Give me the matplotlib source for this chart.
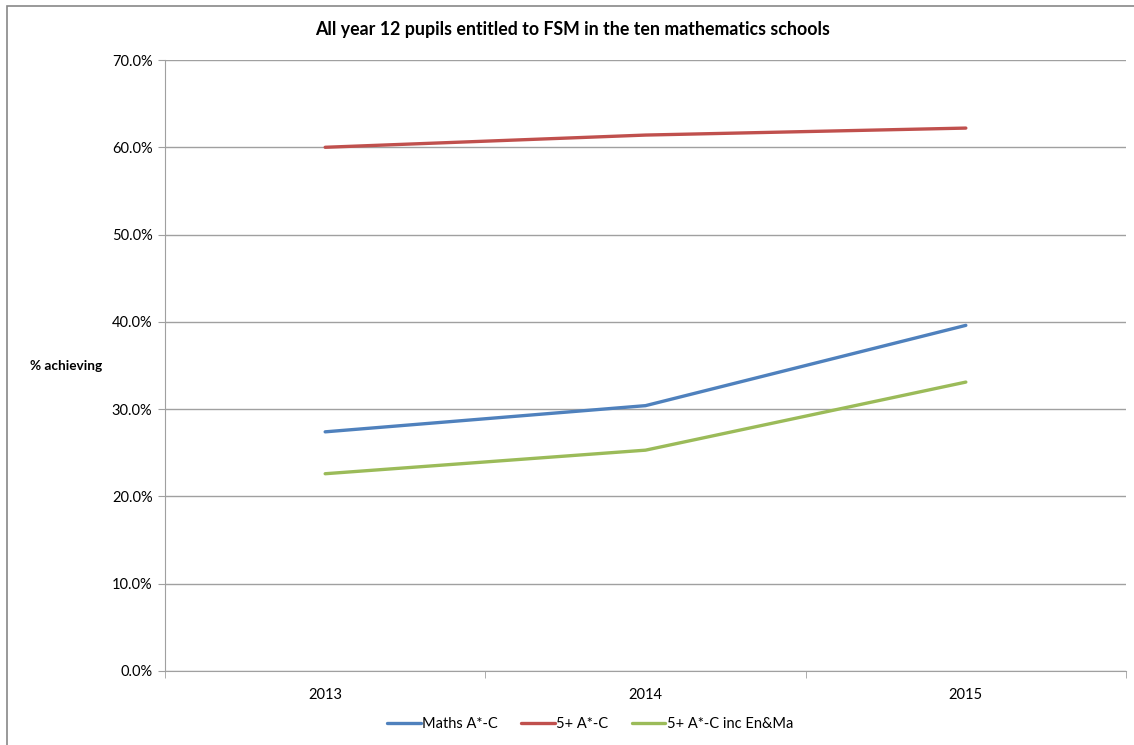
import matplotlib
matplotlib.use("Agg")
from matplotlib import pyplot as plt
from matplotlib.patches import Rectangle
import numpy as np

matplotlib.rc('font', family=['Lato', 'DejaVu Sans'])

years = ["2013", "2014", "2015"]
maths = [27.4, 30.4, 39.6]
five_plus = [60.0, 61.4, 62.2]
five_plus_en_ma = [22.6, 25.3, 33.1]

series = [("Maths A*-C", maths, "#4F81BD"),
          ("5+ A*-C", five_plus, "#C0504D"),
          ("5+ A*-C inc En&Ma", five_plus_en_ma, "#9BBB59")]

fig = plt.figure(figsize=(11.34, 7.45), dpi=100)
fig.patches.append(Rectangle((7/1134, -0.1), 1.1, 1 - 6/745 + 0.1, transform=fig.transFigure,
                             fill=False, edgecolor="#888888", lw=1.2))
ax = fig.add_axes([165/1134, 1 - 671/745, (1126 - 165)/1134, (671 - 60)/745])

x = np.arange(len(years))
for name, vals, col in series:
    ax.plot(x, vals, color=col, lw=2.4, label=name, solid_capstyle='round')

ax.set_xlim(-0.5, len(years) - 0.5)
ax.set_ylim(0, 70)
ax.set_yticks(np.arange(0, 71, 10))
ax.set_yticklabels([f"{v:.1f}%" for v in np.arange(0, 71, 10)], fontsize=10.5)
ax.yaxis.grid(True, color="#a0a0a0", lw=1)
ax.set_axisbelow(True)

ax.set_xticks(x)
ax.set_xticklabels(years, fontsize=10.5)
ax.set_xticks(np.arange(-0.5, len(years)), minor=True)
ax.tick_params(axis='x', which='major', length=0, pad=12)
ax.tick_params(axis='x', which='minor', length=5, color="#a0a0a0")
ax.tick_params(axis='y', length=5, color="#a0a0a0", pad=4)

for s in ["top", "right"]:
    ax.spines[s].set_visible(False)
for s in ["left", "bottom"]:
    ax.spines[s].set_color("#a0a0a0")

fig.text(573/1134, 1 - 30/745, "All year 12 pupils entitled to FSM in the ten mathematics schools",
         ha='center', va='center', fontsize=12.8, fontweight='bold')
fig.text(30/1134, 1 - 366/745, "% achieving", ha='left', va='center', fontsize=9.8, fontweight='bold')

fig.legend(loc='center', bbox_to_anchor=(590/1134, 1 - 724/745), ncol=3, frameon=False,
           fontsize=10.5, handlelength=2.3, handletextpad=0.1, columnspacing=1.6)

fig.savefig("out.png", dpi=100)
